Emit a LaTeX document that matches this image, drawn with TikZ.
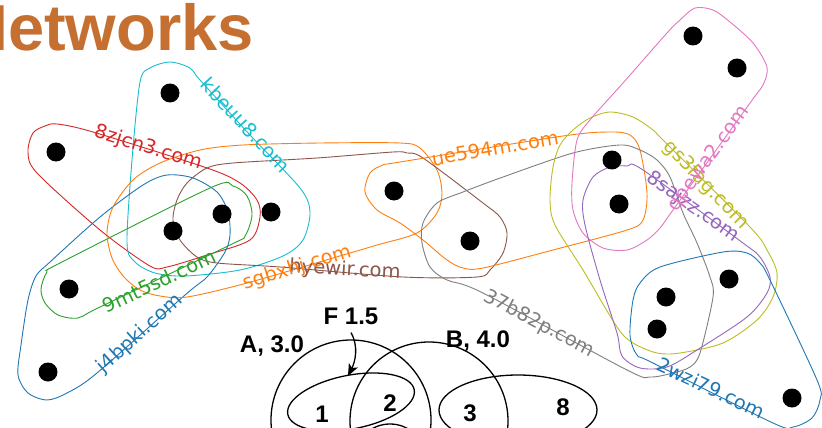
\documentclass[tikz,border=0pt]{standalone}
\usepackage{fontspec}
\setmainfont{DejaVu Sans}
\newfontfamily\arialfont{Liberation Sans}
\usetikzlibrary{arrows.meta}
\definecolor{tblue}{HTML}{1F77B4}
\definecolor{torange}{HTML}{FF7F0E}
\definecolor{tgreen}{HTML}{2CA02C}
\definecolor{tred}{HTML}{D62728}
\definecolor{tpurple}{HTML}{9467BD}
\definecolor{tbrown}{HTML}{8C564B}
\definecolor{tpink}{HTML}{E377C2}
\definecolor{tgray}{HTML}{7F7F7F}
\definecolor{tolive}{HTML}{BCBD22}
\definecolor{tcyan}{HTML}{17BECF}
\definecolor{titlecol}{RGB}{197,112,48}
\tikzset{
  vdot/.style={circle, fill=black, inner sep=0pt, minimum size=19pt},
  hull/.style={line width=0.9pt},
  lab/.style={font=\fontsize{19.5}{20}\selectfont, inner sep=0pt},
  blab/.style={font=\arialfont\bfseries\fontsize{24}{26}\selectfont, inner sep=0pt},
  bline/.style={line width=1.3pt, black},
}
\begin{document}
\begin{tikzpicture}[x=1pt,y=-1pt]
\useasboundingbox (0,0) rectangle (822,428);
\clip (0,0) rectangle (822,428);
\fill[white] (0,0) rectangle (822,428);
% title
\node[anchor=base east, inner sep=0pt, text=titlecol, font=\arialfont\bfseries\fontsize{65}{68}\selectfont] (title) at (254,51) {Networks};

% hulls
\draw[hull, tred] plot[smooth cycle] coordinates {(28,152) (33,133) (45,126) (57,124) (93,132) (207,168) (240,183) (257,200) (260,217) (250,240) (207,255) (167,267) (150,266) (100,230) (37,173)};
\draw[hull, tcyan] plot[smooth cycle] coordinates {(140,82) (150,68) (170,62) (190,68) (200,80) (250,135) (300,188) (310,212) (303,240) (283,256) (240,270) (185,276) (155,273) (135,262) (127,243) (132,160)};
\draw[hull, tgreen] plot[smooth cycle] coordinates {(41,289) (47,272) (60,263) (210,188) (233,186) (247,196) (252,215) (245,236) (230,245) (100,307) (78,318) (58,315) (45,303)};
\draw[hull, tblue] plot[smooth cycle] coordinates {(18,375) (21,345) (28,300) (36,276) (50,262) (100,217) (143,185) (167,175) (193,178) (217,192) (228,212) (230,235) (225,252) (207,277) (185,295) (97,373) (67,393) (47,400) (28,393)};
\draw[hull, torange] plot[smooth cycle] coordinates {(107,233) (113,207) (133,180) (160,163) (200,150) (243,145) (320,143) (400,143) (420,148) (437,170) (442,193) (437,213) (417,233) (377,245) (350,253) (247,283) (187,297) (160,296) (140,290) (124,277) (112,258)};
\draw[hull, tbrown] plot[smooth cycle] coordinates {(173,220) (177,200) (187,183) (207,168) (233,163) (317,158) (393,152) (407,153) (423,158) (483,203) (500,217) (507,233) (503,253) (490,270) (477,277) (403,277) (280,267) (217,263) (197,257) (180,240)};
\draw[hull, torange] plot[smooth cycle] coordinates {(365,192) (370,173) (383,165) (400,162) (563,136) (610,132) (630,135) (640,150) (647,193) (643,220) (627,230) (553,250) (483,268) (463,268) (447,260) (423,240) (400,223) (377,210)};
\draw[hull, tgray] plot[smooth cycle] coordinates {(422,243) (423,223) (437,203) (463,192) (503,177) (573,153) (620,145) (640,150) (657,160) (670,177) (683,213) (697,243) (710,277) (713,297) (700,353) (690,367) (673,373) (650,377) (627,370) (483,293) (447,280) (430,267)};
\draw[hull, tolive] plot[smooth cycle] coordinates {(550,200) (553,167) (560,145) (573,130) (590,118) (610,112) (633,117) (653,130) (663,140) (750,227) (767,250) (777,273) (773,297) (757,320) (723,343) (680,353) (657,353) (633,343) (617,327) (583,270) (555,225)};
\draw[hull, tpink] plot[smooth cycle] coordinates {(667,33) (680,20) (695,8) (713,10) (730,22) (753,43) (767,67) (763,85) (750,103) (673,210) (660,228) (647,240) (627,250) (603,248) (583,233) (573,210) (572,183) (577,140) (590,120) (623,83)};
\draw[hull, tpurple] plot[smooth cycle] coordinates {(583,200) (593,177) (610,167) (627,166) (643,170) (743,243) (760,257) (770,277) (767,293) (747,317) (697,350) (667,367) (640,368) (622,356) (617,333) (600,280) (585,225)};
\draw[hull, tblue] plot[smooth cycle] coordinates {(630,335) (633,300) (640,283) (660,267) (723,252) (747,253) (760,263) (770,280) (817,380) (820,400) (812,418) (793,427) (773,423) (653,363) (637,355)};

% labels
\node[lab, text=tred, rotate=-17] (l1) at (148,148) {8zjcn3.com};
\node[lab, text=tcyan, rotate=-47] (l2) at (246,125) {kbeuu8.com};
\node[lab, text=tgreen, rotate=25] (l3) at (159,281) {9mt5sd.com};
\node[lab, text=tblue, rotate=42] (l4) at (140,334) {j4bpki.com};
\node[lab, text=tbrown, rotate=-3] (l6) at (345,270) {hyewir.com};
\node[lab, text=torange, rotate=17] (l5) at (297,268) {sgbxhj.com};
\node[lab, text=torange, rotate=10] (l7) at (495,148) {ue594m.com};
\node[lab, text=tgray, rotate=-28] (l8) at (539,324) {37b82p.com};
\node[lab, text=tolive, rotate=-46] (l9) at (706,185) {gs3fag.com};
\node[lab, text=tpurple, rotate=-35] (l10) at (693,207) {8sajzz.com};
\node[lab, text=tpink, rotate=54] (l11) at (709,159) {qpewa2.com};
\node[lab, text=tblue, rotate=-25] (l12) at (711,388) {2wzi79.com};

% dots
\node[vdot] (n1) at (170,93) {};
\node[vdot] (n2) at (56,152) {};
\node[vdot] (n3) at (222,214) {};
\node[vdot] (n4) at (271,212) {};
\node[vdot] (n5) at (173,231) {};
\node[vdot] (n6) at (69,289) {};
\node[vdot] (n7) at (48,372) {};
\node[vdot] (n8) at (394,191) {};
\node[vdot] (n9) at (470,241) {};
\node[vdot] (n10) at (612,160) {};
\node[vdot] (n11) at (619,204) {};
\node[vdot] (n12) at (693,36) {};
\node[vdot] (n13) at (737,68) {};
\node[vdot] (n14) at (729,279) {};
\node[vdot] (n15) at (666,297) {};
\node[vdot] (n16) at (657,329) {};
\node[vdot] (n17) at (792,398) {};

% lower diagram
\draw[bline] (351,420) circle [radius=80pt];
\draw[bline] (429,421) circle [radius=79pt];
\draw[bline, rotate around={11:(351,402)}] (351,402) ellipse [x radius=64.4pt, y radius=26.8pt];
\draw[bline] (518,410) ellipse [x radius=79pt, y radius=35pt];
\draw[bline] (390,452) ellipse [x radius=32pt, y radius=28pt];
\node[blab] (F) at (351,316) {F 1.5};
\node[blab] (A) at (272,346) {A, 3.0};
\node[blab] (B) at (478,341) {B, 4.0};
\node[blab] (d1) at (322,414) {1};
\node[blab] (d2) at (390,403) {2};
\node[blab] (d3) at (470,413) {3};
\node[blab] (d8) at (563,407) {8};
\coordinate (ftip) at (348,376);
\draw[bline, -{Stealth[length=12pt,width=10pt,inset=3pt]}] ([yshift=-8pt]F.south) .. controls (359,347) and (355,362) .. (ftip);
\end{tikzpicture}
\end{document}
